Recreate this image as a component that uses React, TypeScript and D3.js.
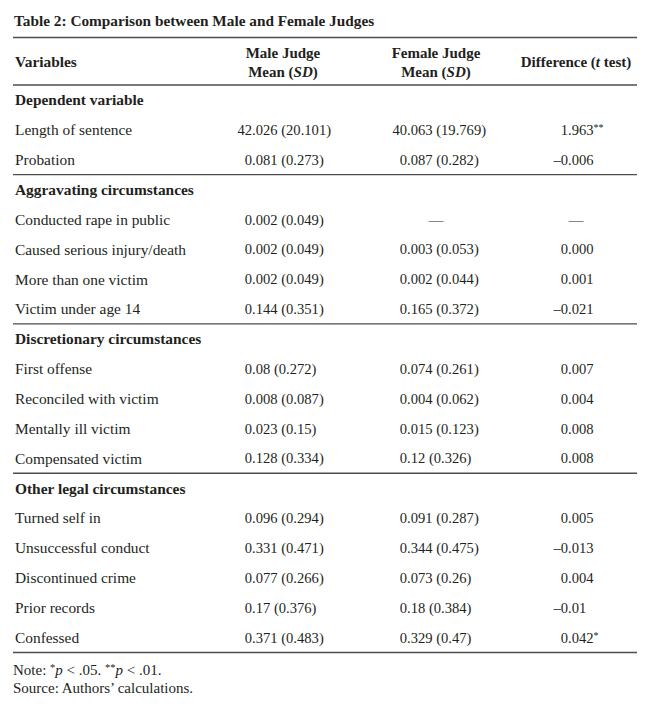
import React from "react";
import * as d3 from "d3";

const titleText = "Table 2: Comparison between Male and Female Judges";
const sectionNames = [
  "Dependent variable",
  "Aggravating circumstances",
  "Discretionary circumstances",
  "Other legal circumstances",
];
const variableLabels = [
  "Length of sentence",
  "Probation",
  "Conducted rape in public",
  "Caused serious injury/death",
  "More than one victim",
  "Victim under age 14",
  "First offense",
  "Reconciled with victim",
  "Mentally ill victim",
  "Compensated victim",
  "Turned self in",
  "Unsuccessful conduct",
  "Discontinued crime",
  "Prior records",
  "Confessed",
];
const variableSection = [0, 0, 1, 1, 1, 1, 2, 2, 2, 2, 3, 3, 3, 3, 3];
const maleMeanSD = [
  "42.026 (20.101)",
  "0.081 (0.273)",
  "0.002 (0.049)",
  "0.002 (0.049)",
  "0.002 (0.049)",
  "0.144 (0.351)",
  "0.08 (0.272)",
  "0.008 (0.087)",
  "0.023 (0.15)",
  "0.128 (0.334)",
  "0.096 (0.294)",
  "0.331 (0.471)",
  "0.077 (0.266)",
  "0.17 (0.376)",
  "0.371 (0.483)",
];
const femaleMeanSD = [
  "40.063 (19.769)",
  "0.087 (0.282)",
  "—",
  "0.003 (0.053)",
  "0.002 (0.044)",
  "0.165 (0.372)",
  "0.074 (0.261)",
  "0.004 (0.062)",
  "0.015 (0.123)",
  "0.12 (0.326)",
  "0.091 (0.287)",
  "0.344 (0.475)",
  "0.073 (0.26)",
  "0.18 (0.384)",
  "0.329 (0.47)",
];
const differenceT = [
  "1.963**",
  "–0.006",
  "—",
  "0.000",
  "0.001",
  "–0.021",
  "0.007",
  "0.004",
  "0.008",
  "0.008",
  "0.005",
  "–0.013",
  "0.004",
  "–0.01",
  "0.042*",
];

const FONT = "'Liberation Serif', 'Times New Roman', serif";
const INK = "#231f20";
const LINE = "#4d4d4d";

type Row = { kind: "section" | "var"; label: string; idx: number };

function buildRows(): Row[] {
  const rows: Row[] = [];
  let prev = -1;
  variableLabels.forEach((label, i) => {
    const s = variableSection[i];
    if (s !== prev) {
      rows.push({ kind: "section", label: sectionNames[s], idx: s });
      prev = s;
    }
    rows.push({ kind: "var", label, idx: i });
  });
  return rows;
}

function DecCell({ value, decX, centerX, y }: { value: string; decX: number; centerX: number; y: number }) {
  if (value === "—") {
    return (
      <text x={centerX} y={y} textAnchor="middle" dy="0.35em">
        —
      </text>
    );
  }
  const dot = value.indexOf(".");
  const intPart = value.slice(0, dot);
  let rest = value.slice(dot);
  const m = rest.match(/(\*+)$/);
  const stars = m ? m[1] : "";
  if (stars) rest = rest.slice(0, rest.length - stars.length);
  return (
    <g>
      <text x={decX} y={y} textAnchor="end" dy="0.35em">
        {intPart}
      </text>
      <text x={decX} y={y} textAnchor="start" dy="0.35em">
        {rest}
        {stars && (
          <tspan fontSize={10} dy={-4}>
            {stars}
          </tspan>
        )}
      </text>
    </g>
  );
}

export default function App() {
  const W = 666;
  const H = 706;
  const rows = buildRows();
  const y = d3.scaleLinear().domain([0, rows.length - 1]).range([100, 637.5]);
  const step = y(1) - y(0);
  const left = 13;
  const right = 637;
  const labelX = 15;
  const maleDec = 252;
  const femaleDec = 407;
  const diffDec = 568;
  const maleC = 283;
  const femaleC = 436;
  const diffC = 576;
  const labelSize = 15.4;

  const lineYs: number[] = [];
  rows.forEach((r, i) => {
    if (r.kind === "section" && i > 0) lineYs.push(y(i) - step / 2);
  });

  return (
    <svg
      width={W}
      height={H}
      style={{ position: "absolute", left: 0, top: 0, background: "#fff" }}
      fontFamily={FONT}
      fontSize={14.6}
      fill={INK}
    >
      <text x={14} y={26} fontWeight="bold" fontSize={15.3}>
        {titleText}
      </text>
      <line x1={left} x2={right} y1={37.5} y2={37.5} stroke={LINE} strokeWidth={1.4} />
      <text x={labelX} y={62} fontWeight="bold" dy="0.35em" fontSize={labelSize}>
        Variables
      </text>
      <g fontWeight="bold" textAnchor="middle" fontSize={15}>
        <text x={maleC} y={53} dy="0.35em">Male Judge</text>
        <text x={maleC} y={72} dy="0.35em">
          Mean (<tspan fontStyle="italic">SD</tspan>)
        </text>
        <text x={femaleC} y={53} dy="0.35em">Female Judge</text>
        <text x={femaleC} y={72} dy="0.35em">
          Mean (<tspan fontStyle="italic">SD</tspan>)
        </text>
        <text x={diffC} y={62} dy="0.35em">
          Difference (<tspan fontStyle="italic">t</tspan> test)
        </text>
      </g>
      <line x1={left} x2={right} y1={85} y2={85} stroke={LINE} strokeWidth={1.4} />
      {rows.map((r, i) => {
        const yy = y(i);
        if (r.kind === "section") {
          return (
            <text key={i} x={labelX} y={yy} dy="0.35em" fontWeight="bold" fontSize={labelSize}>
              {r.label}
            </text>
          );
        }
        return (
          <g key={i}>
            <text x={labelX} y={yy} dy="0.35em" fontSize={labelSize}>
              {r.label}
            </text>
            <DecCell value={maleMeanSD[r.idx]} decX={maleDec} centerX={maleC} y={yy} />
            <DecCell value={femaleMeanSD[r.idx]} decX={femaleDec} centerX={femaleC} y={yy} />
            <DecCell value={differenceT[r.idx]} decX={diffDec} centerX={diffC} y={yy} />
          </g>
        );
      })}
      {lineYs.map((ly, i) => (
        <line key={i} x1={left} x2={right} y1={ly} y2={ly} stroke={LINE} strokeWidth={1.3} />
      ))}
      <line x1={left} x2={right} y1={652.5} y2={652.5} stroke={LINE} strokeWidth={1.4} />
      <text x={13} y={670} dy="0.35em" fontSize={15}>
        Note: <tspan fontSize={10.5} dy={-4}>*</tspan>
        <tspan fontStyle="italic" dy={4}>p</tspan> &lt; .05. <tspan fontSize={10.5} dy={-4}>**</tspan>
        <tspan fontStyle="italic" dy={4}>p</tspan> &lt; .01.
      </text>
      <text x={13} y={688} dy="0.35em" fontSize={15}>
        Source: Authors’ calculations.
      </text>
    </svg>
  );
}
